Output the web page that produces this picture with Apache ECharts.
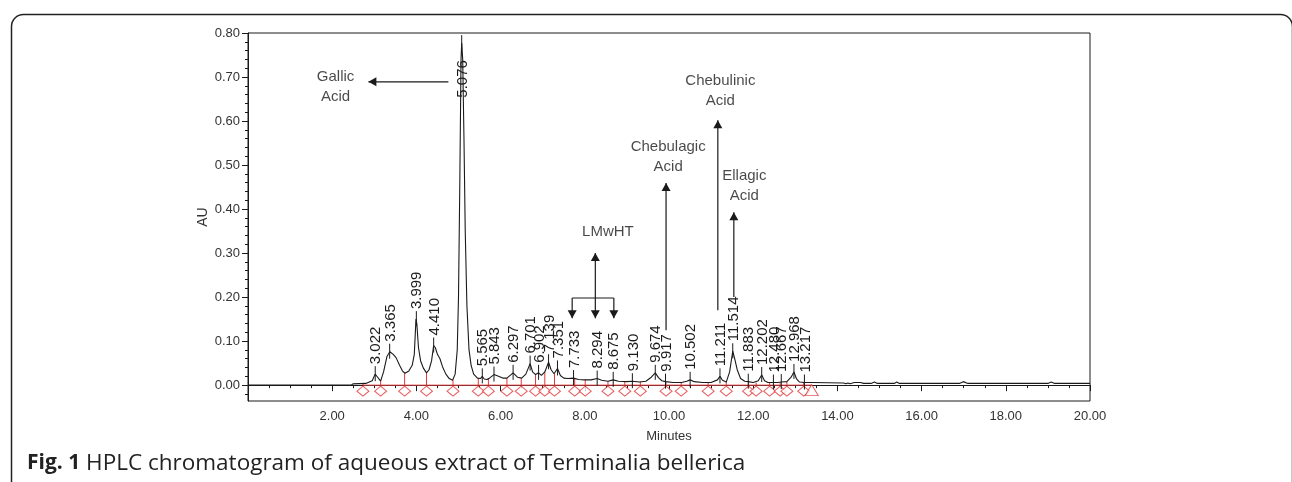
<!DOCTYPE html>
<html>
<head>
<meta charset="utf-8">
<title>HPLC chromatogram</title>
<script src="https://cdn.jsdelivr.net/npm/echarts@6/dist/echarts.min.js"></script>
<style>
  html, body { margin: 0; padding: 0; background: #fff; }
  #chart { width: 1292px; height: 482px; }
</style>
</head>
<body>
<div id="chart"></div>
<script>
// trace: retention time (min) and absorbance (AU)
const traceT = [0, 2.45, 2.5, 2.8, 2.95, 3.02, 3.08, 3.15, 3.22, 3.3, 3.37, 3.45, 3.52, 3.6, 3.67, 3.73,
  3.82, 3.9, 3.95, 3.99, 4.01, 4.05, 4.1, 4.17, 4.24, 4.3, 4.36, 4.41, 4.45, 4.5, 4.56, 4.62, 4.7, 4.78,
  4.86, 4.92, 4.97, 5.0, 5.03, 5.06, 5.076, 5.1, 5.13, 5.16, 5.2, 5.25, 5.3, 5.36, 5.45, 5.52, 5.565,
  5.61, 5.68, 5.75, 5.843, 5.95, 6.05, 6.15, 6.297, 6.4, 6.5, 6.6, 6.701, 6.76, 6.83, 6.902, 6.97, 7.05,
  7.139, 7.2, 7.27, 7.351, 7.42, 7.5, 7.6, 7.733, 7.85, 8.0, 8.15, 8.294, 8.4, 8.55, 8.675, 8.8, 9.0,
  9.13, 9.3, 9.45, 9.58, 9.674, 9.75, 9.83, 9.917, 10.1, 10.3, 10.42, 10.502, 10.6, 10.8, 11.0, 11.15,
  11.211, 11.27, 11.36, 11.44, 11.514, 11.56, 11.62, 11.7, 11.8, 11.883, 12.0, 12.12, 12.202, 12.27,
  12.35, 12.48, 12.58, 12.667, 12.8, 12.9, 12.968, 13.03, 13.1, 13.217, 13.4, 14.15, 14.2, 14.25, 14.3,
  14.4, 14.55, 14.62, 14.8, 14.88, 14.95, 15.35, 15.41, 15.47, 16.9, 16.99, 17.1, 19.0, 19.08, 19.16, 20];
const traceV = [0, 0, 0.003, 0.004, 0.01, 0.025, 0.018, 0.009, 0.03, 0.065, 0.076, 0.07, 0.062, 0.045, 0.032, 0.027,
  0.032, 0.045, 0.07, 0.15, 0.14, 0.085, 0.055, 0.038, 0.028, 0.035, 0.055, 0.09, 0.085, 0.07, 0.06, 0.042, 0.025, 0.015,
  0.011, 0.025, 0.08, 0.2, 0.45, 0.74, 0.777, 0.74, 0.56, 0.35, 0.18, 0.08, 0.045, 0.025, 0.016, 0.015, 0.02,
  0.014, 0.013, 0.017, 0.024, 0.02, 0.016, 0.016, 0.028, 0.018, 0.016, 0.025, 0.049, 0.03, 0.024, 0.028, 0.022, 0.03,
  0.052, 0.035, 0.026, 0.038, 0.022, 0.016, 0.015, 0.016, 0.013, 0.012, 0.012, 0.015, 0.011, 0.009, 0.012, 0.009, 0.008,
  0.009, 0.007, 0.009, 0.018, 0.028, 0.017, 0.01, 0.008, 0.006, 0.006, 0.009, 0.012, 0.008, 0.006, 0.006, 0.012,
  0.02, 0.011, 0.007, 0.03, 0.077, 0.06, 0.035, 0.015, 0.009, 0.008, 0.006, 0.01, 0.023, 0.01,
  0.006, 0.006, 0.006, 0.007, 0.008, 0.018, 0.03, 0.014, 0.007, 0.006, 0.006, 0.005, 0.003, 0.005, 0.003,
  0.006, 0.006, 0.004, 0.004, 0.007, 0.004, 0.004, 0.007, 0.004, 0.004, 0.008, 0.004, 0.004, 0.007, 0.004, 0.004];

// labelled peaks
const peakNames = ['3.022', '3.365', '3.999', '4.410', '5.076', '5.565', '5.843', '6.297', '6.701', '6.902',
  '7.139', '7.351', '7.733', '8.294', '8.675', '9.130', '9.674', '9.917', '10.502', '11.211', '11.514',
  '11.883', '12.202', '12.480', '12.667', '12.968', '13.217'];
const peakApex = [0.025, 0.076, 0.15, 0.09, 0.777, 0.02, 0.024, 0.028, 0.049, 0.028,
  0.052, 0.038, 0.016, 0.015, 0.012, 0.009, 0.028, 0.008, 0.012, 0.02, 0.077,
  0.008, 0.023, 0.006, 0.007, 0.03, 0.006];

// integration marks (red)
const dropT = [2.73, 3.15, 3.72, 4.24, 4.87, 5.47, 5.71, 6.15, 6.49, 6.83, 7.05, 7.28, 7.76, 8.01,
  8.55, 8.95, 9.32, 9.93, 10.29, 10.93, 11.36, 11.89, 12.07, 12.39, 12.64, 12.8, 13.2];
const dropTop = [0.003, 0.009, 0.027, 0.028, 0.011, 0.016, 0.016, 0.016, 0.016, 0.024, 0.03, 0.026, 0.016, 0.012,
  0.009, 0.008, 0.008, 0.008, 0.006, 0.006, 0.007, 0.008, 0.006, 0.006, 0.006, 0.008, 0.006];
const endT = 13.39;

// compound annotations: [x1, y1, x2, y2, arrow head at end (1) or not (0)]
const arrows = [
  [4.76, 0.689, 2.86, 0.689, 1],
  [8.25, 0.198, 8.25, 0.30, 1],
  [8.25, 0.198, 8.25, 0.152, 1],
  [7.70, 0.198, 8.69, 0.198, 0],
  [7.70, 0.198, 7.70, 0.152, 1],
  [8.69, 0.198, 8.69, 0.152, 1],
  [9.93, 0.125, 9.93, 0.459, 1],
  [11.16, 0.17, 11.16, 0.602, 1],
  [11.54, 0.20, 11.54, 0.393, 1]
];
const compoundNames = ['Gallic\nAcid', 'LMwHT', 'Chebulagic\nAcid', 'Chebulinic\nAcid', 'Ellagic\nAcid'];
const compoundT = [2.08, 8.55, 9.98, 11.22, 11.79];
const compoundV = [0.678, 0.348, 0.518, 0.669, 0.452];

const xLabels = [2, 4, 6, 8, 10, 12, 14, 16, 18, 20];
const yTicks = [0, 0.1, 0.2, 0.3, 0.4, 0.5, 0.6, 0.7, 0.8];
const yMinor = [-0.02, 0.02, 0.04, 0.06, 0.08, 0.12, 0.14, 0.16, 0.18, 0.22, 0.24, 0.26, 0.28,
  0.32, 0.34, 0.36, 0.38, 0.42, 0.44, 0.46, 0.48, 0.52, 0.54, 0.56, 0.58, 0.62, 0.64, 0.66, 0.68,
  0.72, 0.74, 0.76, 0.78];

const FONT = 'Liberation Sans';
const INK = '#1a1a1a';
const RED = '#e2383a';

const chart = echarts.init(document.getElementById('chart'));

const trace = traceT.map((t, i) => [t, traceV[i]]);
const peaks = peakNames.map((n, i) => ({ name: n, value: [parseFloat(n), peakApex[i]] }));
const drops = dropT.map((t, i) => [t, dropTop[i]]);
const labels = compoundNames.map((n, i) => ({ name: n, value: [compoundT[i], compoundV[i]] }));

function arrowItem(params, api) {
  const a = api.coord([api.value(0), api.value(1)]);
  const b = api.coord([api.value(2), api.value(3)]);
  const kids = [{
    type: 'line',
    shape: { x1: a[0], y1: a[1], x2: b[0], y2: b[1] },
    style: { stroke: INK, lineWidth: 1.2 }
  }];
  if (api.value(4)) {
    const dx = b[0] - a[0], dy = b[1] - a[1];
    const len = Math.sqrt(dx * dx + dy * dy);
    const ux = dx / len, uy = dy / len;
    const L = 8, W = 4.5;
    const bx = b[0] - ux * L, by = b[1] - uy * L;
    kids.push({
      type: 'polygon',
      shape: { points: [[b[0], b[1]], [bx - uy * W, by + ux * W], [bx + uy * W, by - ux * W]] },
      style: { fill: INK }
    });
  }
  return { type: 'group', children: kids };
}

function peakItem(params, api) {
  const p = api.coord([api.value(0), api.value(1)]);
  const name = peakNames[params.dataIndex];
  const top = params.coordSys.y;
  const tickTop = p[1] - 8;
  const tickBot = p[1] + 7;
  let text;
  if (tickTop - 44 < top) {
    // tall peak: label hangs below the apex
    text = {
      type: 'text', x: p[0] + 1, y: p[1] + 17, rotation: Math.PI / 2,
      style: { text: name, align: 'right', verticalAlign: 'middle', font: '15px ' + FONT, fill: INK }
    };
  } else {
    text = {
      type: 'text', x: p[0] + 1, y: tickTop - 2, rotation: Math.PI / 2,
      style: { text: name, align: 'left', verticalAlign: 'middle', font: '15px ' + FONT, fill: INK }
    };
  }
  return {
    type: 'group',
    children: [
      { type: 'line', shape: { x1: p[0], y1: tickTop, x2: p[0], y2: tickBot }, style: { stroke: INK, lineWidth: 1 } },
      text
    ]
  };
}

function dropItem(params, api) {
  const a = api.coord([api.value(0), 0]);
  const b = api.coord([api.value(0), api.value(1)]);
  return { type: 'line', shape: { x1: a[0], y1: a[1], x2: b[0], y2: b[1] }, style: { stroke: RED, lineWidth: 1 } };
}

const option = {
  animation: false,
  backgroundColor: '#fff',
  textStyle: { fontFamily: FONT },
  grid: { left: 248, right: 202, top: 33, bottom: 81, show: true, borderColor: INK, borderWidth: 1 },
  xAxis: {
    type: 'value', min: 0, max: 20, interval: 2,
    name: 'Minutes', nameLocation: 'middle', nameGap: 29,
    nameTextStyle: { fontFamily: FONT, fontSize: 13, color: '#333' },
    axisLine: { lineStyle: { color: INK, width: 1 } },
    axisTick: { length: 6, lineStyle: { color: INK } },
    minorTick: { show: true, splitNumber: 4, length: 3, lineStyle: { color: INK } },
    axisLabel: { customValues: xLabels, fontFamily: FONT, fontSize: 13, color: '#333', margin: 9,
      formatter: v => v.toFixed(2) },
    splitLine: { show: false }
  },
  yAxis: [{
    type: 'value', min: -0.036, max: 0.8,
    name: 'AU', nameLocation: 'middle', nameGap: 38, nameRotate: 90, nameMoveOverlap: false,
    nameTextStyle: { fontFamily: FONT, fontSize: 14, color: '#333' },
    axisLine: { show: true, lineStyle: { color: INK, width: 1 } },
    axisTick: { show: true, customValues: yTicks, length: 6, lineStyle: { color: INK } },
    axisLabel: { customValues: yTicks, fontFamily: FONT, fontSize: 13, color: '#333', margin: 8,
      formatter: v => v.toFixed(2) },
    splitLine: { show: false }
  }, {
    type: 'value', min: -0.036, max: 0.8, position: 'left',
    axisLine: { show: false },
    axisTick: { show: true, customValues: yMinor, length: 3, lineStyle: { color: INK } },
    axisLabel: { show: false },
    splitLine: { show: false }
  }],
  series: [
    {
      type: 'line', data: [[dropT[0], 0], [endT, 0]], showSymbol: false, silent: true,
      lineStyle: { color: RED, width: 1 }, z: 2
    },
    {
      type: 'custom', data: drops, renderItem: dropItem, silent: true, z: 2
    },
    {
      type: 'line', data: trace, showSymbol: false, silent: true,
      lineStyle: { color: INK, width: 1.1 }, z: 3
    },
    {
      type: 'scatter', data: dropT.map(t => [t, 0]), symbol: 'diamond', symbolSize: [12, 10],
      symbolOffset: [0, 6], itemStyle: { color: '#fff', borderColor: RED, borderWidth: 1 }, silent: true, z: 4
    },
    {
      type: 'scatter', data: [[endT, 0]], symbol: 'triangle', symbolSize: [13, 11],
      symbolOffset: [0, 5], itemStyle: { color: '#fff', borderColor: RED, borderWidth: 1 }, silent: true, z: 4
    },
    {
      type: 'custom', data: peaks, renderItem: peakItem, silent: true, z: 5
    },
    {
      type: 'custom', data: arrows, renderItem: arrowItem, silent: true, z: 5,
      encode: { x: [0, 2], y: [1, 3] }
    },
    {
      type: 'scatter', data: labels, symbolSize: 0, silent: true, z: 6,
      label: {
        show: true, position: 'inside', formatter: p => p.name,
        fontFamily: FONT, fontSize: 15, lineHeight: 20, color: INK, align: 'center'
      }
    }
  ],
  graphic: [
    {
      type: 'rect', left: 9, top: 12,
      shape: { width: 1281, height: 520, r: 12 },
      style: { fill: 'none', stroke: '#222', lineWidth: 1.5 }
    },
    {
      type: 'text', left: 27, top: 452,
      style: {
        text: '{b|Fig. 1} HPLC chromatogram of aqueous extract of Terminalia bellerica',
        font: '22.5px "Open Sans"', fill: '#222',
        rich: { b: { fontWeight: 'bold', fontFamily: 'Open Sans', fontSize: 21, fill: '#222' } }
      }
    }
  ]
};

chart.setOption(option);
</script>
</body>
</html>
